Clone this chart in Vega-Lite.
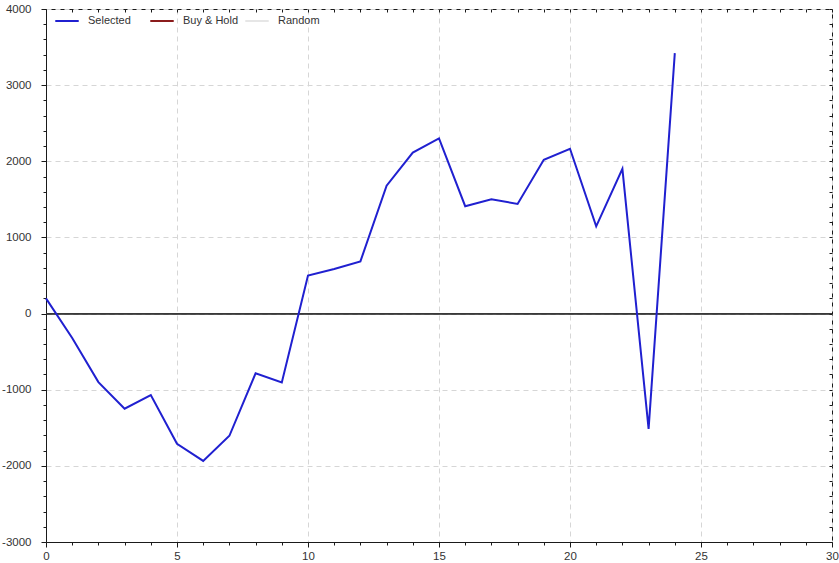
{
  "$schema": "https://vega.github.io/schema/vega-lite/v6.json",
  "width": 786,
  "height": 533,
  "autosize": {"type": "none"},
  "padding": {"left": 46, "top": 9, "right": 7, "bottom": 21},
  "background": "white",
  "config": {
    "view": {"stroke": "#1a1a1a", "strokeWidth": 1},
    "font": "Liberation Sans",
    "axis": {
      "labelFont": "Liberation Sans",
      "labelFontSize": 11.5,
      "labelColor": "#333333",
      "tickColor": "#1a1a1a",
      "domainColor": "#1a1a1a",
      "gridColor": "#d6d6d6",
      "gridDash": [5, 4],
      "labelOverlap": false,
      "labelBound": false,
      "title": null
    }
  },
  "data": {
    "values": [
      {"x": 0, "y": 200, "series": "Selected"},
      {"x": 1, "y": -320, "series": "Selected"},
      {"x": 2, "y": -900, "series": "Selected"},
      {"x": 3, "y": -1250, "series": "Selected"},
      {"x": 4, "y": -1070, "series": "Selected"},
      {"x": 5, "y": -1710, "series": "Selected"},
      {"x": 6, "y": -1935, "series": "Selected"},
      {"x": 7, "y": -1605, "series": "Selected"},
      {"x": 8, "y": -785, "series": "Selected"},
      {"x": 9, "y": -905, "series": "Selected"},
      {"x": 10, "y": 500, "series": "Selected"},
      {"x": 11, "y": 585, "series": "Selected"},
      {"x": 12, "y": 685, "series": "Selected"},
      {"x": 13, "y": 1680, "series": "Selected"},
      {"x": 14, "y": 2115, "series": "Selected"},
      {"x": 15, "y": 2300, "series": "Selected"},
      {"x": 16, "y": 1410, "series": "Selected"},
      {"x": 17, "y": 1500, "series": "Selected"},
      {"x": 18, "y": 1440, "series": "Selected"},
      {"x": 19, "y": 2020, "series": "Selected"},
      {"x": 20, "y": 2165, "series": "Selected"},
      {"x": 21, "y": 1145, "series": "Selected"},
      {"x": 22, "y": 1900, "series": "Selected"},
      {"x": 23, "y": -1515, "series": "Selected"},
      {"x": 24, "y": 3420, "series": "Selected"}
    ]
  },
  "layer": [
    {
      "mark": {"type": "rule", "color": "#3a3a3a", "strokeWidth": 1},
      "encoding": {
        "x": {
          "datum": 0,
          "type": "quantitative",
          "scale": {"domain": [0, 30], "nice": false, "zero": false},
          "axis": {
            "orient": "top",
            "values": [0,1,2,3,4,5,6,7,8,9,10,11,12,13,14,15,16,17,18,19,20,21,22,23,24,25,26,27,28,29,30],
            "labels": false,
            "domain": false,
            "grid": false,
            "tickSize": -3
          }
        },
        "x2": {"datum": 30},
        "y": {
          "datum": 0,
          "type": "quantitative",
          "scale": {"domain": [-3000, 4000], "nice": false, "zero": false},
          "axis": {
            "orient": "right",
            "values": [-3000,-2800,-2600,-2400,-2200,-2000,-1800,-1600,-1400,-1200,-1000,-800,-600,-400,-200,0,200,400,600,800,1000,1200,1400,1600,1800,2000,2200,2400,2600,2800,3000,3200,3400,3600,3800,4000],
            "labels": false,
            "domain": false,
            "grid": false,
            "tickSize": -3
          }
        }
      }
    },
    {
      "mark": {"type": "line", "strokeWidth": 2},
      "encoding": {
        "x": {
          "field": "x",
          "type": "quantitative",
          "axis": {
            "orient": "bottom",
            "values": [0,1,2,3,4,5,6,7,8,9,10,11,12,13,14,15,16,17,18,19,20,21,22,23,24,25,26,27,28,29,30],
            "labelExpr": "datum.value % 5 === 0 ? '' + datum.value : ''",
            "tickSize": {"condition": {"test": "datum.value % 5 === 0", "value": 5}, "value": 3},
            "gridOpacity": {"condition": {"test": "datum.value % 5 === 0", "value": 1}, "value": 0},
            "grid": true,
            "labelPadding": 3,
            "labelFlush": false
          }
        },
        "y": {
          "field": "y",
          "type": "quantitative",
          "axis": {
            "orient": "left",
            "values": [-3000,-2800,-2600,-2400,-2200,-2000,-1800,-1600,-1400,-1200,-1000,-800,-600,-400,-200,0,200,400,600,800,1000,1200,1400,1600,1800,2000,2200,2400,2600,2800,3000,3200,3400,3600,3800,4000],
            "labelExpr": "datum.value % 1000 === 0 ? '' + datum.value : ''",
            "tickSize": {"condition": {"test": "datum.value % 1000 === 0", "value": 5}, "value": 3},
            "gridOpacity": {"condition": {"test": "datum.value % 1000 === 0", "value": 1}, "value": 0},
            "grid": true,
            "labelPadding": 10,
            "labelFlush": false
          }
        },
        "color": {
          "field": "series",
          "type": "nominal",
          "scale": {
            "domain": ["Selected", "Buy & Hold", "Random"],
            "range": ["#2020d0", "#8b1c1c", "#e6e6e6"]
          },
          "legend": {
            "orient": "none",
            "legendX": 8,
            "legendY": -1,
            "direction": "horizontal",
            "title": null,
            "symbolType": "stroke",
            "symbolSize": 550,
            "symbolStrokeWidth": 2,
            "labelFont": "Liberation Sans",
            "labelFontSize": 11,
            "labelColor": "#333333",
            "labelOffset": 8,
            "columnPadding": 2,
            "gridAlign": "all",
            "padding": 0
          }
        }
      }
    }
  ],
  "resolve": {"axis": {"x": "independent", "y": "independent"}}
}
